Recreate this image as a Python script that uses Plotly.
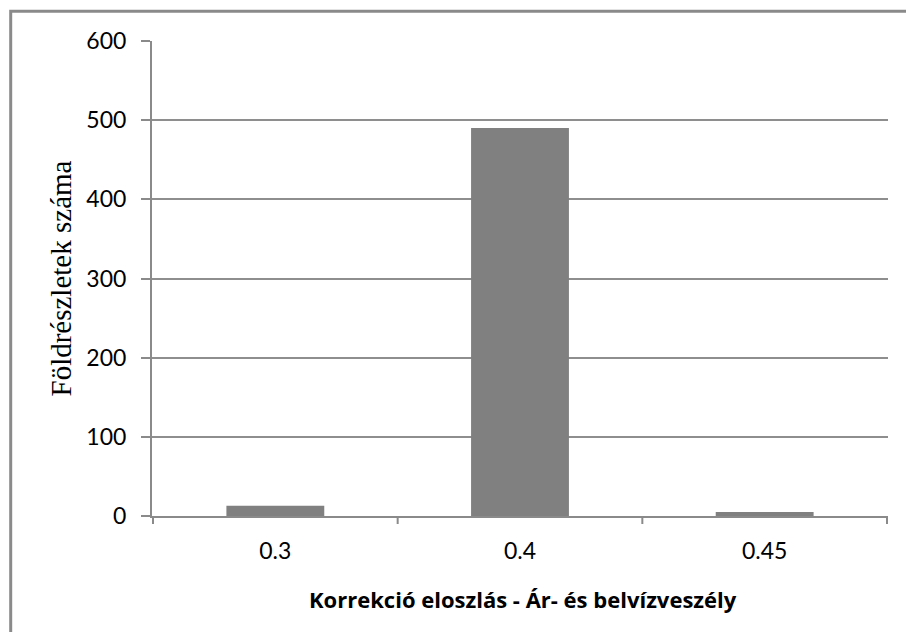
import plotly.graph_objects as go

categories = ["0.3", "0.4", "0.45"]
values = [13, 490, 5]
y_ticks = [0, 100, 200, 300, 400, 500, 600]

L, T, W, H = 152, 41, 736, 475  # plot area in px

fig = go.Figure()
fig.add_trace(go.Bar(
    x=categories, y=values,
    marker=dict(color="#808080", line=dict(width=0)),
    width=0.4,
))

fig.update_layout(
    width=906, height=632,
    margin=dict(l=L, r=906 - L - W, t=T, b=632 - T - H),
    paper_bgcolor="white", plot_bgcolor="white",
    showlegend=False,
    font=dict(family="Lato, sans-serif", color="black"),
    xaxis=dict(
        type="category",
        showline=True, linecolor="#8a8a8a", linewidth=2,
        ticks="", tickfont=dict(size=23, family="Lato"),
        ticklabelstandoff=13,
        showgrid=False,
    ),
    yaxis=dict(
        range=[0, 600], tickvals=y_ticks,
        showline=True, linecolor="#8a8a8a", linewidth=2,
        ticks="outside", ticklen=9, tickcolor="#8a8a8a", tickwidth=2,
        ticklabelstandoff=10,
        showgrid=True, gridcolor="#8e8e8e", gridwidth=2,
        zeroline=False,
        tickfont=dict(size=23, family="Lato"),
    ),
    annotations=[
        dict(text="<b>Korrekció eloszlás - Ár- és belvízveszély</b>",
             xref="paper", yref="paper", x=(523 - L) / W, y=-(599 - (T + H)) / H,
             xanchor="center", yanchor="middle", showarrow=False,
             font=dict(size=22, family="Open Sans", color="black")),
        dict(text="Földrészletek száma", textangle=-90,
             xref="paper", yref="paper", x=(60 - L) / W, y=0.5,
             xanchor="center", yanchor="middle", showarrow=False,
             font=dict(size=29, family="Liberation Serif", color="black")),
    ],
)

# category separator ticks on x-axis
for i in range(len(categories) + 1):
    fig.add_shape(type="line", xref="x", yref="paper",
                  x0=i - 0.5, x1=i - 0.5, y0=0, y1=-8 / H,
                  line=dict(color="#8a8a8a", width=2))

# outer chart frame (extends past right/bottom edges)
fig.add_shape(type="rect", xref="paper", yref="paper",
              x0=(10.7 - L) / W, x1=(930 - L) / W,
              y0=-(660 - (T + H)) / H, y1=1 + (T - 11.3) / H,
              line=dict(color="#8a8a8a", width=3), fillcolor="rgba(0,0,0,0)",
              layer="below")

fig.write_html("out.html", config={"displayModeBar": False},
               post_script="document.body.style.margin='0';")
